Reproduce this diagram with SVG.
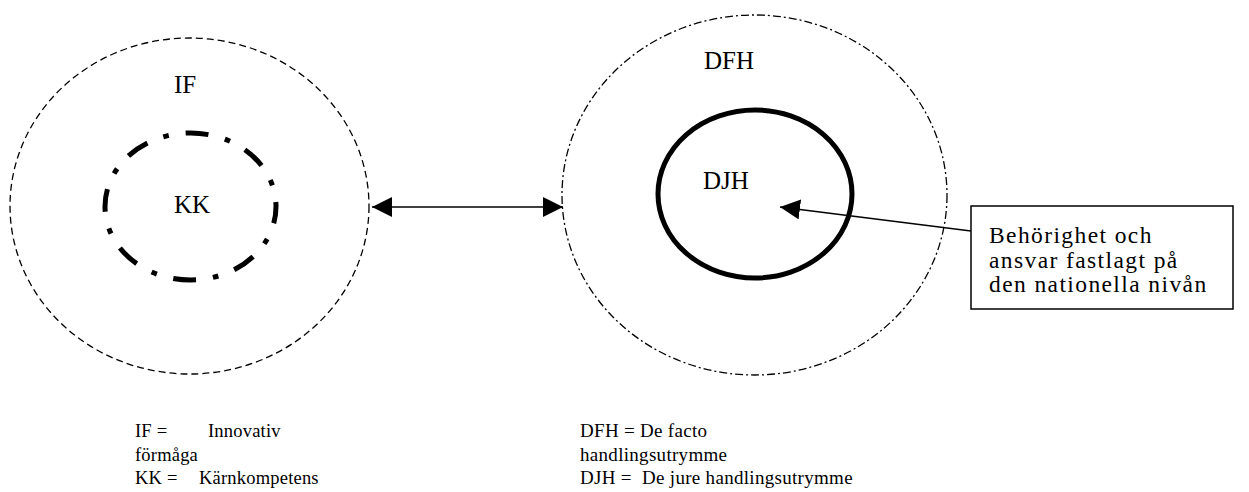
<svg xmlns="http://www.w3.org/2000/svg" width="1249" height="492" viewBox="0 0 1249 492">
  <style>
    text { font-family: "Liberation Serif", "Times New Roman", serif; fill: #000; }
    .lbl { font-size: 25px; }
    .leg { font-size: 19px; letter-spacing: 0.3px; }
    .legl { font-size: 18.5px; letter-spacing: 0.2px; }
    .box { font-size: 23.5px; letter-spacing: 1.4px; }
    .conn { stroke: #000; stroke-width: 1.5; fill: none; }
  </style>
  <defs>
    <marker id="head" markerUnits="userSpaceOnUse" markerWidth="20" markerHeight="20" refX="20" refY="10" orient="auto-start-reverse" viewBox="0 0 20 20">
      <path d="M0,0 L20,10 L0,20 z" fill="#000"/>
    </marker>
  </defs>
  <rect width="1249" height="492" fill="#fff"/>

  <g id="node-IF">
    <ellipse cx="189.5" cy="206" rx="179.5" ry="168" fill="none" stroke="#000" stroke-width="1.3" stroke-dasharray="7 4"/>
    <text class="lbl" x="174" y="93">IF</text>
  </g>
  <g id="node-KK">
    <ellipse cx="190.5" cy="206.5" rx="85.5" ry="73.5" fill="none" stroke="#000" stroke-width="5" stroke-dasharray="23 17 5.6 17" stroke-dashoffset="6"/>
    <text class="lbl" x="174" y="213">KK</text>
  </g>
  <g id="node-DFH">
    <ellipse cx="754.5" cy="195" rx="192.5" ry="180" fill="none" stroke="#000" stroke-width="1.3" stroke-dasharray="8 3 2 3"/>
    <text class="lbl" x="704" y="69">DFH</text>
  </g>
  <g id="node-DJH">
    <ellipse cx="755" cy="194" rx="97" ry="84" fill="none" stroke="#000" stroke-width="5"/>
    <text class="lbl" x="703" y="189">DJH</text>
  </g>
  <g id="node-note">
    <rect x="971" y="206" width="262" height="103" fill="#fff" stroke="#000" stroke-width="1.5"/>
    <text class="box" x="989" y="243">Behörighet och</text>
    <text class="box" x="989" y="268">ansvar fastlagt på</text>
    <text class="box" x="989" y="292">den nationella nivån</text>
  </g>

  <g id="connectors">
    <line class="conn" x1="372" y1="207" x2="563" y2="207" marker-start="url(#head)" marker-end="url(#head)"/>
    <line class="conn" x1="971" y1="231" x2="780" y2="207" marker-end="url(#head)"/>
  </g>

  <g id="legend-left">
    <text class="legl" y="437"><tspan x="135">IF =</tspan><tspan x="208">Innovativ</tspan></text>
    <text class="legl" x="135" y="461">förmåga</text>
    <text class="legl" y="484"><tspan x="135">KK =</tspan><tspan x="199">Kärnkompetens</tspan></text>
  </g>
  <g id="legend-right">
    <text class="leg" x="580" y="437">DFH = De facto</text>
    <text class="leg" x="580" y="461">handlingsutrymme</text>
    <text class="leg" y="484"><tspan x="580">DJH =</tspan><tspan x="642">De jure handlingsutrymme</tspan></text>
  </g>
</svg>
